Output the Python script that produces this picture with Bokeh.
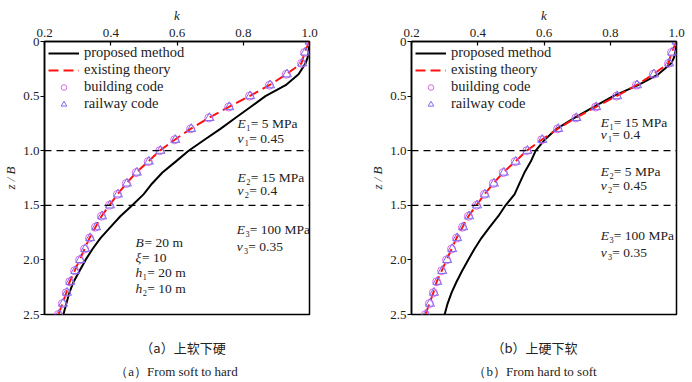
from bokeh.plotting import figure
from bokeh.layouts import row, column
from bokeh.models import Range1d, FixedTicker, Label, Span
from bokeh.embed import file_html
from bokeh.resources import INLINE

# ---------------- data ----------------
z_codes = [0.0, 0.1, 0.2, 0.3, 0.4, 0.5, 0.6, 0.7, 0.8, 0.9, 1.0, 1.1, 1.2,
           1.3, 1.4, 1.5, 1.6, 1.7, 1.8, 1.9, 2.0, 2.1, 2.2, 2.3, 2.4, 2.5]
existing_k = [1.000, 0.985, 0.976, 0.930, 0.879, 0.819, 0.756, 0.696, 0.641,
              0.593, 0.548, 0.513, 0.477, 0.447, 0.420, 0.396, 0.372, 0.354,
              0.336, 0.321, 0.306, 0.291, 0.276, 0.266, 0.254, 0.242]
building_k = [1.000, 0.985, 0.976, 0.930, 0.879, 0.819, 0.756, 0.696, 0.641,
              0.593, 0.548, 0.513, 0.477, 0.447, 0.420, 0.396, 0.372, 0.354,
              0.336, 0.321, 0.306, 0.291, 0.276, 0.266, 0.254, 0.242]
railway_k = [1.000, 0.987, 0.978, 0.932, 0.881, 0.821, 0.758, 0.698, 0.643,
             0.595, 0.550, 0.515, 0.479, 0.449, 0.422, 0.398, 0.374, 0.356,
             0.338, 0.323, 0.308, 0.293, 0.278, 0.268, 0.256, 0.244]

z_prop = [0.0, 0.05, 0.1, 0.15, 0.2, 0.3, 0.4, 0.5, 0.6, 0.7, 0.8, 0.9, 1.0,
          1.1, 1.2, 1.3, 1.4, 1.5, 1.6, 1.7, 1.8, 1.9, 2.0, 2.1, 2.2, 2.3,
          2.4, 2.5]
# (a) soft over hard
proposed_a = [1.000, 0.999, 0.997, 0.994, 0.988, 0.967, 0.928, 0.867, 0.822,
              0.776, 0.731, 0.683, 0.635, 0.596, 0.556, 0.525, 0.499, 0.465,
              0.429, 0.399, 0.369, 0.345, 0.324, 0.306, 0.288, 0.275, 0.266,
              0.257]
# (b) hard over soft
proposed_b = [1.000, 0.999, 0.996, 0.992, 0.984, 0.945, 0.884, 0.809, 0.749,
              0.692, 0.638, 0.602, 0.575, 0.560, 0.541, 0.526, 0.511, 0.484,
              0.462, 0.436, 0.411, 0.390, 0.371, 0.353, 0.336, 0.321, 0.309,
              0.300]

x_ticks = [0.2, 0.4, 0.6, 0.8, 1.0]
x_tick_labels = ["0.2", "0.4", "0.6", "0.8", "1.0"]
y_ticks = [0.0, 0.5, 1.0, 1.5, 2.0, 2.5]
y_tick_labels = ["0", "0.5", "1.0", "1.5", "2.0", "2.5"]
layer_bounds = [1.0, 1.5]

series_names = ["proposed method", "existing theory", "building code", "railway code"]

layers_a = [("E", "\u2081= 5 MPa", "\u03bd", "\u2081= 0.45"),
            ("E", "\u2082= 15 MPa", "\u03bd", "\u2082= 0.4"),
            ("E", "\u2083= 100 MPa", "\u03bd", "\u2083= 0.35")]
layers_b = [("E", "\u2081= 15 MPa", "\u03bd", "\u2081= 0.4"),
            ("E", "\u2082= 5 MPa", "\u03bd", "\u2082= 0.45"),
            ("E", "\u2083= 100 MPa", "\u03bd", "\u2083= 0.35")]
params_a = [("B", " = 20 m"), ("\u03be", " = 10"), ("h", "\u2081= 20 m"), ("h", "\u2082= 10 m")]

caption_cn = ["\uff08a\uff09\u4e0a\u8f6f\u4e0b\u786c", "\uff08b\uff09\u4e0a\u786c\u4e0b\u8f6f"]
caption_en = ["\uff08a\uff09From soft to hard", "\uff08b\uff09From hard to soft"]

SERIF = "'Liberation Serif'"
SYM_W = {"E": 8.5, "\u03bd": 7, "B": 9, "\u03be": 6.5, "h": 7}
TXT = "#222222"


def add_sym_text(p, x, y, sym, rest):
    p.add_layout(Label(x=x, y=y, text=sym, text_font=SERIF,
                       text_font_style="italic", text_font_size="13.5px",
                       text_baseline="middle", text_color=TXT))
    p.add_layout(Label(x=x, y=y, x_offset=SYM_W[sym], text=rest, text_font=SERIF,
                       text_font_size="13.5px", text_baseline="middle",
                       text_color=TXT))


def make_panel(border_left, border_right, proposed, layers, layer_pos, params=None):
    p = figure(width=346, height=324, output_backend="svg", toolbar_location=None,
               x_axis_location="above",
               x_range=Range1d(0.2, 1.0), y_range=Range1d(2.5, 0.0),
               min_border_left=border_left, min_border_right=border_right,
               min_border_top=41, min_border_bottom=10)
    p.grid.visible = False
    p.outline_line_color = "black"
    p.outline_line_width = 1.5
    p.background_fill_color = "white"
    p.border_fill_color = "white"

    for ax in (p.xaxis[0], p.yaxis[0]):
        ax.axis_line_width = 1.5
        ax.minor_tick_line_color = None
        ax.major_label_text_font = SERIF
        ax.major_label_text_font_size = "13px"
        ax.major_label_text_color = TXT
        ax.axis_label_text_font = SERIF
        ax.axis_label_text_font_style = "italic"
        ax.axis_label_text_font_size = "13px"
        ax.axis_label_text_color = TXT
        ax.major_tick_line_width = 1.2

    xa = p.xaxis[0]
    xa.ticker = FixedTicker(ticks=x_ticks)
    xa.major_label_overrides = {t: l for t, l in zip(x_ticks, x_tick_labels)}
    xa.major_tick_in = 4
    xa.major_tick_out = 0
    xa.major_label_standoff = 5
    xa.axis_label = "k"
    xa.axis_label_standoff = 3

    ya = p.yaxis[0]
    ya.ticker = FixedTicker(ticks=y_ticks)
    ya.major_label_overrides = {t: l for t, l in zip(y_ticks, y_tick_labels)}
    ya.major_tick_in = 0
    ya.major_tick_out = 4
    ya.major_label_standoff = 1
    ya.axis_label = "z / B"
    ya.axis_label_standoff = 2

    for b in layer_bounds:
        p.add_layout(Span(location=b, dimension="width", line_color="black",
                          line_width=1.3, line_dash="7 5"))

    p.line(proposed, z_prop, line_color="black", line_width=2,
           legend_label=series_names[0])
    p.line(existing_k, z_codes, line_color="#ff1010", line_width=2,
           line_dash="10 5", legend_label=series_names[1])
    p.scatter(building_k, z_codes, marker="circle", size=8, fill_color=None,
              line_color="#e066e6", line_width=1, legend_label=series_names[2])
    p.scatter(railway_k, z_codes, marker="triangle", size=9, fill_color=None,
              line_color="#7b6cf0", line_width=1, legend_label=series_names[3])

    lg = p.legend[0]
    lg.location = (4, 202)
    lg.border_line_color = None
    lg.background_fill_alpha = 0
    lg.margin = 0
    lg.padding = 8
    lg.spacing = -3
    lg.glyph_width = 31
    lg.glyph_height = 14
    lg.label_height = 14
    lg.label_standoff = 5
    lg.label_text_font = SERIF
    lg.label_text_font_size = "14.5px"
    lg.label_text_color = TXT

    for (s1, r1, s2, r2), (x, y1, y2) in zip(layers, layer_pos):
        add_sym_text(p, x, y1, s1, r1)
        add_sym_text(p, x, y2, s2, r2)

    if params:
        ys = [1.841, 1.978, 2.115, 2.262]
        for (s, r), y in zip(params, ys):
            add_sym_text(p, 0.475, y, s, r)
    return p


def make_caption(idx, x_cn, x_en):
    c = figure(width=346, height=58, output_backend="svg", toolbar_location=None,
               x_axis_location=None, y_axis_location=None,
               x_range=Range1d(0, 346), y_range=Range1d(58, 0),
               min_border=0)
    c.grid.visible = False
    c.outline_line_color = None
    c.add_layout(Label(x=x_cn, y=23, text=caption_cn[idx],
                       text_font="'Noto Sans CJK SC'", text_font_size="13px",
                       text_align="center", text_baseline="middle", text_color=TXT))
    c.add_layout(Label(x=x_en, y=47, text=caption_en[idx],
                       text_font=SERIF, text_font_size="13px",
                       text_align="center", text_baseline="middle", text_color=TXT))
    return c


pos_a = [(0.783, 0.751, 0.888), (0.783, 1.245, 1.365), (0.780, 1.722, 1.877)]
pos_b = [(0.771, 0.742, 0.852), (0.771, 1.190, 1.319), (0.771, 1.777, 1.932)]

pa = make_panel(44, 37, proposed_a, layers_a, pos_a, params_a)
pb = make_panel(65, 16, proposed_b, layers_b, pos_b)
ca = make_caption(0, 182.5, 176)
cb = make_caption(1, 188, 188.5)

layout = column(row(pa, pb), row(ca, cb))
open("out.html", "w").write(file_html(layout, INLINE))
